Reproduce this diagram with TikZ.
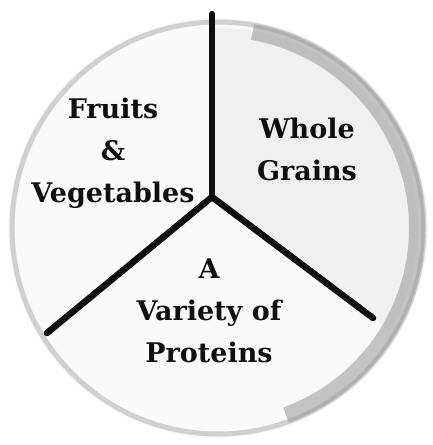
\documentclass[tikz,border=0pt]{standalone}
\usepackage{fontspec}
\setmainfont{DejaVu Serif}
\usepackage{tikz}
\usetikzlibrary{
  positioning,
  calc
}
\definecolor{plategray}{RGB}{150,150,150}
\definecolor{inkblack}{RGB}{15,15,15}
\tikzset{
  foodlabel/.style={
    align=center,
    inner sep=0pt,
    text=inkblack,
    font=\fontsize{27}{42}\selectfont\bfseries
  },
  divider/.style={draw=inkblack,line width=6.5pt,line cap=round,line join=round},
  plateedge/.style={draw=plategray!45,line width=5pt},
  platerim/.style={draw=plategray,line width=16pt,opacity=0.55},
}

\begin{document}
\begin{tikzpicture}[x=1pt,y=-1pt]
  \useasboundingbox (0,0) rectangle (433,445);

  % Plate
  \coordinate (plate) at (218,228);
  \fill[black!2] (plate) circle (210);
  \begin{scope}
    \clip (212,197) -- (212,0) -- (433,0) -- (433,363) -- cycle;
    \fill[black!6] (plate) circle (200);
  \end{scope}
  \draw[plateedge] (plate) circle (206);
  \draw[platerim] ($(plate)+(-80:199)$) arc[start angle=-80,end angle=70,radius=199];

  % Dividers
  \coordinate (hub) at (212,197);
  \coordinate (topend) at (212,14);
  \coordinate (leftend) at (47,333);
  \coordinate (rightend) at (373,318);
  \draw[divider] (topend) -- (hub);
  \draw[divider] (hub) -- (leftend);
  \draw[divider] (hub) -- (rightend);

  % Labels
  \node[foodlabel,anchor=base] (fruits) at (113,202) {Fruits\\\&\\Vegetables};
  \node[foodlabel,anchor=base] (grains) at (307,180) {Whole\\Grains};
  \node[foodlabel,anchor=base] (proteins) at (209,362) {A\\Variety of\\Proteins};
\end{tikzpicture}
\end{document}
